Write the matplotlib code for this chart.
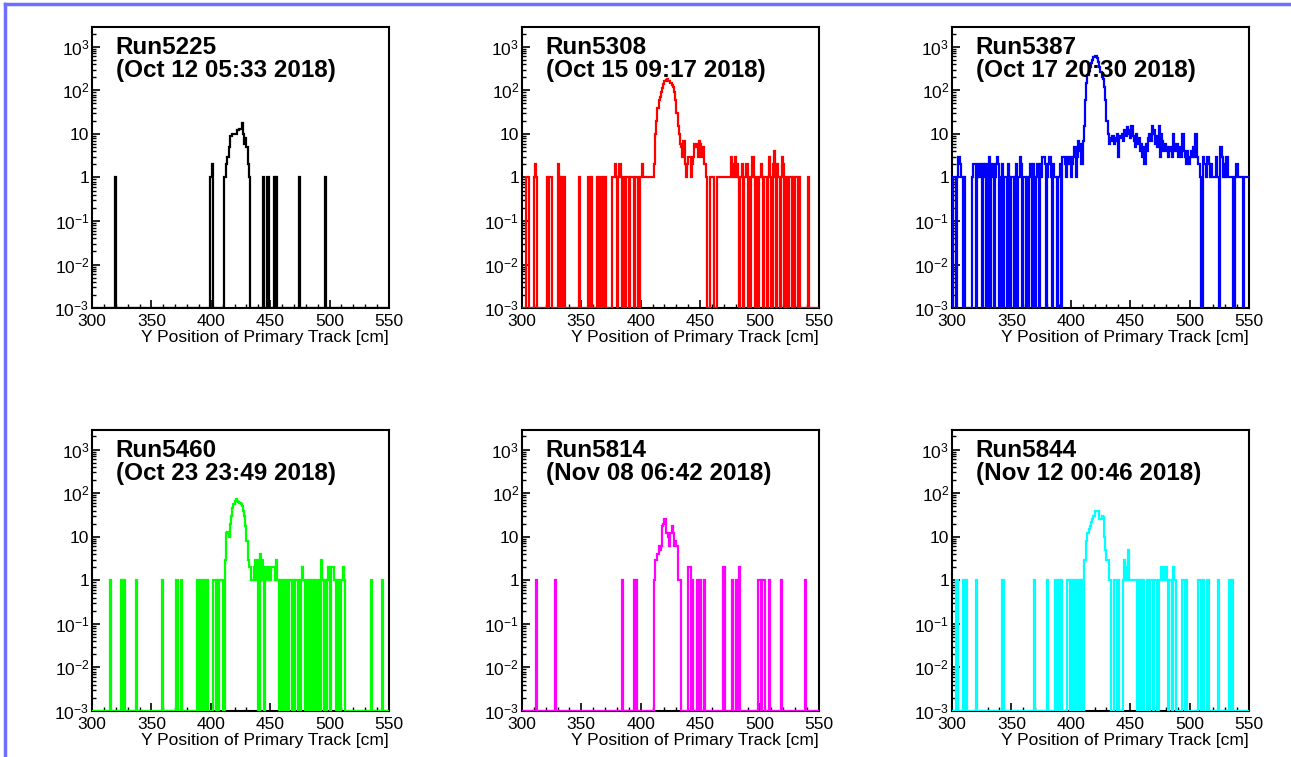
import numpy as np
import matplotlib
matplotlib.use("Agg")
import matplotlib.pyplot as plt
from matplotlib.lines import Line2D
from matplotlib.ticker import FixedLocator, FixedFormatter, MultipleLocator, LogLocator, NullFormatter

plt.rcParams['font.family'] = ['Liberation Sans', 'DejaVu Sans']
plt.rcParams['mathtext.fontset'] = 'custom'
plt.rcParams['mathtext.rm'] = 'Liberation Sans'
plt.rcParams['mathtext.it'] = 'Liberation Sans:italic'
plt.rcParams['mathtext.bf'] = 'Liberation Sans:bold'

# run labels
runs = ["Run5225", "Run5308", "Run5387", "Run5460", "Run5814", "Run5844"]
dates = ["(Oct 12 05:33 2018)", "(Oct 15 09:17 2018)", "(Oct 17 20:30 2018)",
         "(Oct 23 23:49 2018)", "(Nov 08 06:42 2018)", "(Nov 12 00:46 2018)"]
colors = ["#000000", "#ff0000", "#0000ff", "#00ff00", "#ff00ff", "#00ffff"]

# non-empty bins (lower edge in cm, 1 cm bins) and their counts
pos_5225 = [319, 399, 400, 401,
            411, 412, 413, 414, 415, 416, 417, 418, 419, 420, 421, 422, 423, 424, 425, 426, 427, 428, 429, 430, 431, 432,
            444, 447, 448, 453, 455, 474, 496]
cnt_5225 = [1, 1, 1, 2,
            1, 1, 2, 3, 5, 9, 9, 10, 10, 10, 10, 12, 12, 13, 13, 18, 10, 6, 8, 5, 2, 1,
            1, 1, 1, 1, 1, 1, 1]

pos_5308 = [303, 304, 305, 310, 311, 312, 321, 323, 324, 330, 331, 333, 335, 348, 356, 358, 363, 365, 367, 369, 370,
            376, 377, 378, 379, 381, 382, 383, 385, 386, 388, 389, 391, 392, 393, 395, 396, 397, 399, 400, 401, 402,
            403, 404, 405, 406, 407, 408, 409, 410, 411,
            412, 413, 414, 415, 416, 417, 418, 419, 420, 421, 422, 423, 424, 425, 426, 427, 428, 429, 430, 431, 432,
            433, 434, 435, 436, 437, 438, 439, 440, 441, 442, 443, 444, 445, 446, 447, 448, 449, 450, 451, 452, 453,
            454, 455, 458, 459, 460, 461, 464, 465, 466, 467, 468, 469, 470, 471, 472, 473, 474, 475, 476, 477, 478,
            479, 480, 481, 482, 484, 485, 487, 488, 489, 491, 493, 494, 495, 497, 498, 500, 501, 502, 504, 505, 507,
            508, 509, 511, 512, 513, 515, 516, 518, 519, 520, 522, 523, 525, 526, 528, 530, 531, 533, 541]
cnt_5308 = [1, 1, 1, 1, 2, 1, 1, 1, 1, 2, 1, 1, 1, 1, 1, 1, 1, 1, 1, 1, 1,
            1, 1, 2, 1, 1, 2, 1, 1, 1, 1, 1, 1, 1, 1, 1, 1, 1, 1, 1, 2, 1,
            1, 1, 1, 1, 1, 1, 1, 1, 2,
            10, 20, 40, 60, 70, 90, 110, 140, 160, 170, 180, 165, 160, 150, 130, 120, 90, 60, 30, 15, 10,
            6, 5, 3, 7, 2, 1, 2, 3, 3, 1, 2, 3, 6, 5, 6, 3, 7, 6, 3, 5, 2,
            2, 1, 1, 1, 1, 1, 1, 1, 1, 1, 1, 1, 1, 1, 1, 1, 1, 1, 3, 2, 1,
            3, 1, 2, 1, 1, 2, 1, 1, 2, 1, 1, 3, 1, 1, 1, 1, 2, 1, 1, 1, 1,
            3, 1, 2, 4, 1, 2, 1, 1, 3, 2, 1, 1, 1, 1, 1, 1, 1, 1, 1]

pos_5387 = [301, 302, 304, 305, 306, 307, 308, 310,
            317, 318, 319, 321, 322, 323, 324, 326, 327, 328, 330, 331, 333, 334, 336, 337, 338, 339, 341, 342,
            344, 345, 347, 348, 350, 351, 353, 354, 356, 357, 358, 360, 361, 363, 365, 366, 368, 369, 371, 372,
            374, 375, 376, 377, 378, 380, 381, 382, 383, 385, 386, 387, 389, 390, 391,
            393, 394, 395, 396, 397, 398, 399, 400, 401, 402, 403, 404, 405, 406, 407, 408, 409, 410,
            411, 412, 413, 414, 415, 416, 417, 418, 419, 420, 421, 422, 423, 424, 425, 426, 427, 428, 429, 430, 431,
            432, 433, 434, 435, 436, 437, 438, 439, 440, 441, 442, 443, 444, 445, 446, 447, 448, 449, 450, 451,
            452, 453, 454, 455, 456, 457, 458, 459, 460, 461, 462, 463, 464, 465, 466, 467, 468, 469, 470, 471,
            472, 473, 474, 475, 476, 477, 478, 479, 480, 481, 482, 483, 484, 485, 486, 487, 488, 489, 490, 491,
            492, 493, 494, 495, 496, 497, 498, 499, 500, 501, 502, 503, 504, 505, 506, 507, 508, 509,
            511, 512, 513, 514, 515, 516, 517, 518, 519, 520, 521, 522, 523, 524, 526, 527, 528, 529, 530, 531,
            532, 533, 534, 535, 536, 538, 539, 540, 541, 542, 543, 544, 546, 547, 548, 549]
cnt_5387 = [1, 1, 1, 3, 3, 2, 1, 1,
            1, 2, 2, 1, 2, 1, 2, 2, 1, 2, 2, 3, 1, 2, 1, 2, 3, 2, 1, 2,
            1, 1, 2, 1, 1, 1, 1, 2, 1, 3, 2, 1, 1, 1, 1, 2, 2, 1, 1, 2,
            2, 1, 3, 3, 2, 1, 2, 3, 1, 2, 1, 1, 1, 1, 2,
            3, 3, 2, 1, 3, 2, 3, 1, 2, 3, 5, 1, 3, 7, 4, 6, 2, 7,
            15, 60, 150, 220, 280, 350, 420, 500, 580, 620, 600, 550, 450, 350, 260, 200, 180, 120, 60, 20, 10,
            6, 8, 7, 9, 6, 8, 7, 10, 3, 9, 8, 10, 7, 12, 9, 14, 10, 12, 8, 15,
            9, 7, 5, 10, 6, 8, 4, 6, 3, 5, 2, 6, 4, 8, 10, 7, 15, 10, 12, 6,
            9, 5, 15, 3, 10, 7, 4, 6, 5, 4, 3, 5, 4, 3, 10, 5, 4, 6, 3, 5,
            4, 3, 10, 4, 3, 2, 4, 2, 3, 4, 3, 5, 3, 10, 3, 2, 2, 1,
            3, 2, 2, 1, 3, 2, 1, 2, 1, 1, 1, 3, 1, 1, 5, 3, 1, 2, 1, 3,
            1, 1, 1, 1, 1, 1, 2, 2, 1, 1, 1, 1, 1, 1, 1, 1]

pos_5460 = [315, 324, 326, 327, 337, 359, 371, 375, 388, 389, 391, 393, 396, 397, 402, 403, 405, 407, 408, 409,
            412, 413, 414, 415, 416, 417, 418, 419, 420, 421, 422, 423, 424, 425, 426, 427, 428, 429, 430, 431,
            432, 433, 434, 435, 436, 437, 438, 439, 441, 442, 443, 444, 446, 447, 448, 449, 450, 451, 452, 453,
            454, 455, 456, 458, 460, 462, 464, 466, 467, 469, 471, 472, 474, 476, 477, 478, 480, 481, 483, 485,
            486, 488, 490, 491, 493, 494, 496, 498, 499, 501, 502, 503, 504, 506, 508, 510, 511, 512, 535, 544]
cnt_5460 = [1, 1, 1, 1, 1, 1, 1, 1, 1, 1, 1, 1, 1, 1, 1, 1, 1, 1, 1, 1,
            3, 12, 13, 10, 20, 30, 45, 55, 65, 75, 65, 62, 60, 55, 50, 40, 30, 18, 8, 3,
            2, 2, 1, 1, 2, 3, 1, 3, 4, 1, 3, 1, 2, 1, 1, 2, 1, 2, 2, 2,
            1, 3, 1, 1, 1, 1, 1, 1, 1, 1, 1, 1, 1, 1, 2, 1, 1, 1, 1, 1,
            1, 1, 1, 1, 3, 1, 1, 1, 2, 2, 2, 2, 1, 1, 1, 1, 2, 1, 1, 1]

pos_5814 = [312, 328, 384, 394, 396,
            411, 412, 413, 414, 415, 416, 417, 418, 419, 420, 421, 422, 423, 424, 425, 426, 427, 428, 429, 430,
            431, 432, 433, 440, 441, 443, 447, 450, 453, 469, 470, 477, 480, 483, 499, 500, 502, 503, 504, 508,
            518, 538]
cnt_5814 = [1, 1, 1, 1, 1,
            1, 3, 3, 4, 6, 5, 6, 18, 20, 25, 12, 12, 10, 6, 12, 18, 12, 6, 8, 6,
            1, 1, 1, 2, 2, 1, 1, 1, 1, 2, 2, 1, 1, 2, 1, 1, 1, 1, 1, 1,
            1, 1]

pos_5844 = [303, 304, 309, 310, 312, 320, 342, 343, 369, 380, 387, 389, 390, 392, 397, 398, 400, 403, 406, 407,
            409, 411, 412, 413, 414, 415, 416, 417, 418, 419, 420, 421, 422, 423, 424, 425, 426, 427, 428, 429,
            430, 431, 432, 433, 436, 437, 438, 440, 444, 445, 446, 447, 448, 449, 450, 451, 452, 453, 454, 455,
            457, 459, 461, 464, 465, 467, 468, 470, 471, 472, 474, 475, 476, 477, 478, 479, 480, 481, 483, 484,
            486, 487, 488, 494, 495, 497, 507, 508, 509, 511, 515, 524, 533, 534, 536]
cnt_5844 = [1, 1, 1, 1, 1, 1, 1, 1, 1, 1, 1, 1, 1, 1, 1, 1, 1, 1, 1, 1,
            1, 3, 3, 8, 12, 15, 18, 22, 25, 30, 38, 38, 38, 38, 25, 25, 30, 28, 10, 5,
            3, 3, 1, 1, 1, 1, 1, 1, 1, 3, 1, 2, 5, 1, 1, 1, 1, 1, 1, 1,
            1, 1, 1, 1, 1, 1, 1, 1, 1, 1, 1, 1, 2, 2, 1, 2, 2, 1, 1, 1,
            2, 1, 1, 1, 1, 1, 1, 1, 1, 1, 1, 1, 1, 1, 1]

positions = [pos_5225, pos_5308, pos_5387, pos_5460, pos_5814, pos_5844]
counts_all = [cnt_5225, cnt_5308, cnt_5387, cnt_5460, cnt_5814, cnt_5844]

x_min, x_max = 300, 550
y_min, y_max = 1e-3, 2.8e3
edges = np.arange(x_min, x_max + 1)

fig = plt.figure(figsize=(12.91, 7.57), dpi=100)
lefts = [0.0713, 0.4043, 0.7374]
bottoms = [0.593, 0.0608]
w, h = 0.230, 0.371

ytick_vals = [1e-3, 1e-2, 1e-1, 1, 10, 1e2, 1e3]
ytick_labs = [r"$10^{-3}$", r"$10^{-2}$", r"$10^{-1}$", "1", "10", r"$10^{2}$", r"$10^{3}$"]

for i in range(6):
    ax = fig.add_axes([lefts[i % 3], bottoms[i // 3], w, h])
    hist = np.zeros(len(edges) - 1)
    hist[np.array(positions[i]) - x_min] = counts_all[i]
    # empty bins sit on the bottom of the frame, like ROOT on log scale
    ax.stairs(np.where(hist > 0, hist, y_min), edges, color=colors[i], lw=1.6,
              baseline=None, zorder=3)

    ax.set_yscale('log')
    ax.set_xlim(x_min, x_max)
    ax.set_ylim(y_min, y_max)

    ax.xaxis.set_major_locator(MultipleLocator(50))
    ax.xaxis.set_minor_locator(MultipleLocator(10))
    ax.yaxis.set_major_locator(FixedLocator(ytick_vals))
    ax.yaxis.set_major_formatter(FixedFormatter(ytick_labs))
    ax.yaxis.set_minor_locator(LogLocator(base=10, subs=np.arange(2, 10)))
    ax.yaxis.set_minor_formatter(NullFormatter())
    ax.tick_params(which='both', direction='in', top=False, right=False, labelsize=12.5)
    ax.tick_params(which='major', length=5.5, width=1.2)
    ax.tick_params(which='minor', length=2.8, width=1.0)
    ax.tick_params(axis='x', pad=4)
    ax.tick_params(axis='y', pad=2)
    for sp in ax.spines.values():
        sp.set_linewidth(1.5)

    ax.set_xlabel("Y Position of Primary Track [cm]", loc='right', fontsize=12.5, labelpad=1)
    ax.text(0.08, 0.97, runs[i] + "\n" + dates[i], transform=ax.transAxes,
            ha='left', va='top', fontsize=17.5, fontweight='bold', linespacing=1.0)

# blue frame of the original canvas
border = "#6e6eff"
fig.add_artist(Line2D([0.0035, 1.0], [0.9945, 0.9945], color=border, lw=2.5, transform=fig.transFigure))
fig.add_artist(Line2D([0.0042, 0.0042], [0.0, 0.9945], color=border, lw=2.5, transform=fig.transFigure))

fig.savefig("out.png", dpi=100)
